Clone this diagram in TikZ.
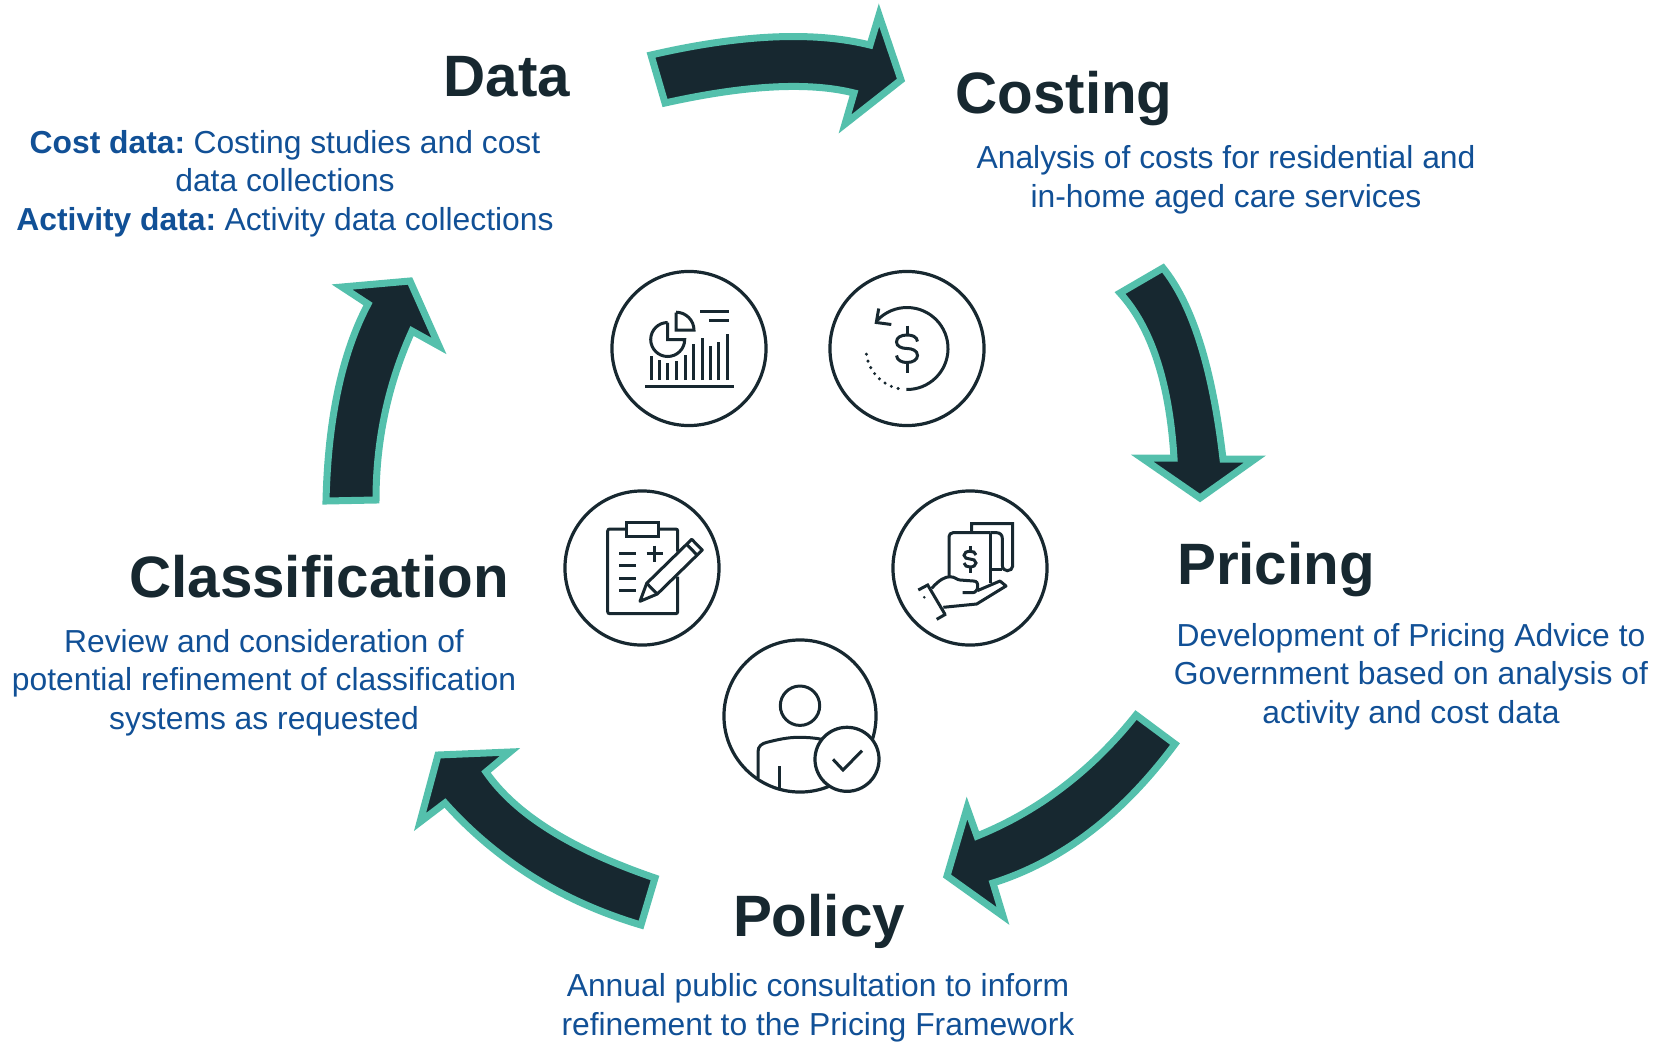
\documentclass[tikz,border=0pt]{standalone}
\usepackage{fontspec}
\setmainfont{Liberation Sans}
\usepackage{tikz}
\definecolor{arrowdark}{RGB}{23,40,48}
\definecolor{arrowteal}{RGB}{84,192,172}
\definecolor{textblue}{RGB}{17,80,150}
\newcommand{\dollarsign}[3]{
	\begin{scope}[shift={(#1,#2)},scale=#3]
		\draw (10.5,-7) .. controls (10,-12) and (5,-13.5) .. (0,-13.5) .. controls (-6,-13.5) and (-10.5,-11) .. (-10.5,-6.5) .. controls (-10.5,-2) and (-5,0) .. (0,0) .. controls (5,0) and (10.5,2) .. (10.5,7) .. controls (10.5,11) and (6,14) .. (0,14) .. controls (-5,14) and (-10,12) .. (-10.5,7);
		\draw (0,-23) -- (0,-13.5);
		\draw (0,14) -- (0,24);
	\end{scope}
}
\tikzset{
	flowarrow/.style={fill=arrowdark, draw=arrowteal, line width=0.07cm, miter limit=20},
	headtext/.style={anchor=base, inner sep=0, text=arrowdark, font=\fontsize{16.6}{20}\selectfont\bfseries},
	bodytext/.style={anchor=center, inner sep=0, align=center, text=textblue, font=\fontsize{9.05}{10.97}\selectfont},
	iconring/.style={circle, draw=arrowdark, line width=0.032cm, minimum size=1.54cm, inner sep=0},
	iconline/.style={draw=arrowdark, line width=0.03cm}
}

\begin{document}
\begin{tikzpicture}[x=0.01cm, y=-0.01cm]
		\useasboundingbox (0, 0) rectangle (1660, 1042);
		%%%%% ARROWS %%%%%
		
		\draw[flowarrow] (651, 55) .. controls (740.7, 34.3) and (813.7, 31) .. (870, 45) -- (879, 15) -- (901, 80) -- (845, 124) -- (854, 93) .. controls (809, 81.7) and (746, 85) .. (665, 103) -- cycle;
		\draw[flowarrow] (1163, 268) .. controls (1192.4, 304.3) and (1212.4, 368) .. (1223, 459) -- (1255, 459) -- (1200, 498) -- (1142, 458) -- (1174, 458) .. controls (1169.3, 382.4) and (1151.3, 327.4) .. (1120, 293) -- cycle;
		\draw[flowarrow] (1136, 715) -- (1175, 744) .. controls (1122.4, 815) and (1061.7, 861.3) .. (993, 883) -- (1003, 916) -- (947, 876) -- (967, 808) -- (977, 836) .. controls (1038.7, 811) and (1091.7, 770.6) .. (1136, 715) -- cycle;
		\draw[flowarrow] (655, 878) -- (641, 925) .. controls (562.4, 901.6) and (497, 861) .. (445, 803) -- (420, 822) -- (438, 755) -- (510, 752) -- (486, 772) .. controls (515, 814) and (571.3, 849.4) .. (655, 878) -- cycle;
		\draw[flowarrow] (326, 501) -- (376, 500) .. controls (376, 440.4) and (388, 384) .. (412, 331) -- (439, 346) -- (410, 281) -- (342, 287) -- (368, 304) .. controls (342, 353) and (328, 418.7) .. (326, 501) -- cycle;
		
		%%%%% TEXT %%%%%
		
		\node[headtext] (datahead) at (507, 96) {Data};
		\node[bodytext] (datatext) at (285, 183.5) {\textbf{Cost data:}\kern-1pt{} Costing studies and cost\\data collections\\\textbf{Activity data:}\kern-1pt{} Activity data collections};
		
		\node[headtext] (costinghead) at (1064, 113.5) {Costing};
		\node[bodytext] (costingtext) at (1226, 179.5) {Analysis of costs for residential and\\in-home aged care services};
		
		\node[headtext] (pricinghead) at (1276, 584) {Pricing};
		\node[bodytext] (pricingtext) at (1411, 676.5) {Development of Pricing Advice to\\Government based on analysis of\\activity and cost data};
		
		\node[headtext] (classhead) at (319, 597) {Classification};
		\node[bodytext] (classtext) at (264, 682.5) {Review and consideration of\\potential refinement of classification\\systems as requested};
		
		\node[headtext] (policyhead) at (819, 936) {Policy};
		\node[bodytext] (policytext) at (818, 1007.5) {Annual public consultation to inform\\refinement to the Pricing Framework};
		
		%%%%% ICONS %%%%%
		
		\node[iconring] (dataring) at (689, 348.5) {};
		\begin{scope}[shift={(dataring.center)}, iconline]
			\draw (-44, 38) -- (45, 38);
			\foreach \barx/\bartop in {-37.7/7.7, -29.7/11.7, -21.3/14.3, -12.7/12.3, -4/6.7, 4.3/-4.3, 13/-11, 21.3/-2.3, 29.7/-6.7, 38/-15}
				\draw (\barx, 31.7) -- (\barx, \bartop);
			\draw (-21.3, -26) -- (-21.3, -9) -- (-4.3, -9) arc (0:270:17);
			\draw (-13, -36) -- (-13, -18.3) -- (5, -18.3) arc (0:-90:18);
			\draw (11, -36.7) -- (40.3, -36.7);
			\draw (20, -27.7) -- (40.3, -27.7);
		\end{scope}
		
		\node[iconring] (costring) at (907, 348.5) {};
		\begin{scope}[shift={(costring.center)}, iconline]
			\draw (-0.7, 41) arc (91:-137:41);
			\draw (-28.3, -40) -- (-30.7, -26) -- (-15.7, -24);
			\draw[line cap=round, dash pattern=on 0pt off 0.071cm, line width=0.034cm] (-40.6, 5.7) arc (172:102:41);
			\dollarsign{0}{0}{1}
		\end{scope}
		
		\node[iconring] (classring) at (642, 568) {};
		\begin{scope}[shift={(classring.center)}, iconline]
			\draw[rounded corners=0.02cm] (35.7, -16.3) -- (35.7, -39) -- (16.7, -39);
			\draw[rounded corners=0.02cm] (-15.3, -39) -- (-34.3, -39) -- (-34.3, 45.7) -- (35.7, 45.7) -- (35.7, 8.7);
			\draw (-15.3, -45.3) rectangle (16.7, -32);
			\foreach \liney in {-14.7, -2.3, 10, 22.3}
				\draw (-23, \liney) -- (-6.3, \liney);
			\draw (4.7, -14.3) -- (20.7, -14.3);
			\draw (12.7, -22.3) -- (12.7, -6.3);
			\draw[line join=round] (49.7, -28.7) -- (60.3, -18) -- (15.3, 26) -- (-2, 33.3) -- (4.7, 15.3) -- cycle;
			\draw (4.7, 15.3) -- (15.3, 26);
			\draw (44.7, -23.7) -- (55, -13);
		\end{scope}
		
		\node[iconring] (pricering) at (970, 568) {};
		\begin{scope}[shift={(pricering.center)}, iconline]
			\draw[rounded corners=0.04cm] (-21, 8.7) -- (-21, -35.3) -- (20.7, -35.3);
			\draw (20.7, -35.3) -- (20.7, 15.3);
			\draw (20.7, -35.3) -- (26.7, -35.3) .. controls (30, -35.3) and (32.3, -33) .. (32.3, -29.7) -- (32.3, -3) .. controls (32.3, 1) and (35, 2.7) .. (37.3, 2.7) .. controls (40, 2.7) and (42.7, 1) .. (42.7, -2) -- (42.7, -44.3) -- (1.7, -44.3) -- (1.7, -35.3);
			\draw (20.7, 1.3) -- (32.3, 1.3);
			\dollarsign{0}{-9}{0.57}
			\draw (-51.7, 22) -- (-42.3, 17) -- (-25, 46.3);
			\draw (-33.3, 51.3) -- (-24, 46);
			\draw (-38.3, 20.3) .. controls (-31, 12) and (-25, 8.7) .. (-20, 8.7) .. controls (-15, 8.7) and (-13, 12) .. (-10, 12) -- (3.3, 13) .. controls (7, 13) and (7.7, 15) .. (7.7, 18.7) .. controls (7.7, 22) and (5, 24.7) .. (2.7, 24.7) -- (-7.3, 24.7);
			\draw[line join=round] (-26.7, 39.3) -- (6.7, 36) -- (36, 18) -- (30, 13) -- (7.3, 22.7);
			\fill[arrowdark] (-45.7, 29.3) circle (1.4);
		\end{scope}
		
		\node[iconring, minimum size=1.52cm] (policyring) at (800, 716) {};
		\begin{scope}[shift={(policyring.center)}, iconline]
			\draw (0, -10.3) circle (19.7);
			\draw (-42, 62.3) -- (-42, 35.7) .. controls (-42, 30) and (-38, 27.5) .. (-33, 26.3) .. controls (-22, 23.5) and (-12, 21.3) .. (-1.3, 21.3) .. controls (8, 21.3) and (15, 22) .. (22, 23.3);
			\draw (-20.3, 50) -- (-20.3, 72.3);
			\node[circle, draw=arrowdark, fill=white, line width=0.032cm, minimum size=0.64cm, inner sep=0] (checkring) at (47, 43.3) {};
			\draw (33, 43.3) -- (43, 54) -- (62, 34.7);
		\end{scope}
		
		%%%%% END %%%%%
	\end{tikzpicture}
\end{document}
